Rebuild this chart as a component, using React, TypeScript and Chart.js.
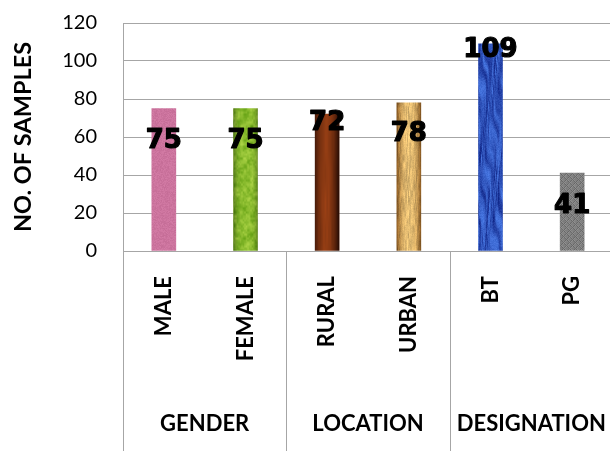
import React, { useEffect, useRef } from "react";
import { Chart, registerables } from "chart.js";

Chart.register(...registerables);

// ---- data ----
const groups = ["GENDER", "LOCATION", "DESIGNATION"];
const groupSizes = [2, 2, 2];
const categories = ["MALE", "FEMALE", "RURAL", "URBAN", "BT", "PG"];
const samples = [75, 75, 72, 78, 109, 41];
const yTicks = [0, 20, 40, 60, 80, 100, 120];

// ---- styling ----
const GRID = "#a6a6a6";
const CLEAR = "rgba(0,0,0,0)";
const BAR_W = 24;
const FALLBACK = ["#cb76a0", "#84bb22", "#7a2c0c", "#d9a35a", "#2d5ad2", "#808080"];
// value labels sit this many px below the top of each bar
const LABEL_DROP = [33, 33, 9, 31, 6, 33];

type RGB = [number, number, number];
const mix = (a: RGB, b: RGB, t: number): RGB => [
  a[0] + (b[0] - a[0]) * t,
  a[1] + (b[1] - a[1]) * t,
  a[2] + (b[2] - a[2]) * t,
];

function hash2(x: number, y: number, seed: number): number {
  let n = (Math.imul(x | 0, 374761393) + Math.imul(y | 0, 668265263) + Math.imul(seed, 1442695041)) | 0;
  n = Math.imul(n ^ (n >>> 13), 1274126177);
  n = n ^ (n >>> 16);
  return (n >>> 0) / 4294967296;
}

function smoothNoise(x: number, y: number, seed: number): number {
  const ix = Math.floor(x), iy = Math.floor(y);
  const fx = x - ix, fy = y - iy;
  const sx = fx * fx * (3 - 2 * fx), sy = fy * fy * (3 - 2 * fy);
  const a = hash2(ix, iy, seed), b = hash2(ix + 1, iy, seed);
  const c = hash2(ix, iy + 1, seed), d = hash2(ix + 1, iy + 1, seed);
  const top = a + (b - a) * sx;
  const bot = c + (d - c) * sx;
  return top + (bot - top) * sy;
}

// per-bar fill textures: (x, y, u = 0..1 across the bar) -> colour
const painters: ((x: number, y: number, u: number) => RGB)[] = [
  // MALE: flat pink with a faint grain
  (x, y) => {
    const n = (hash2(x, y, 11) - 0.5) * 14;
    return [204 + n, 116 + n, 158 + n];
  },
  // FEMALE: mottled green
  (x, y, u) => {
    const m = smoothNoise(x / 3.5, y / 4.5, 21) * 0.65 + smoothNoise(x / 1.5, y / 2, 22) * 0.35;
    const c = mix([92, 155, 14], [178, 216, 74], m);
    const e = 1 - 0.3 * Math.pow(Math.abs(2 * u - 1), 4);
    return [c[0] * e, c[1] * e, c[2] * e];
  },
  // RURAL: dark reddish wood
  (x, y, u) => {
    const d = Math.min(1, Math.abs(u - 0.45) / 0.55);
    const c = mix([150, 62, 20], [40, 12, 4], Math.pow(d, 1.8));
    const s = 0.9 + 0.14 * smoothNoise(x * 0.6, y / 30, 31);
    return [c[0] * s, c[1] * s, c[2] * s];
  },
  // URBAN: light straw wood
  (x, y, u) => {
    const d = Math.abs(u - 0.5) / 0.5;
    const c = mix([240, 198, 120], [135, 86, 30], Math.pow(d, 2.5));
    const s = 0.82 + 0.28 * smoothNoise(x * 1.1, y / 7, 41) + (hash2(x, y, 42) - 0.5) * 0.08;
    return [c[0] * s, c[1] * s, c[2] * s];
  },
  // BT: streaky royal blue
  (x, y) => {
    const s = smoothNoise(x * 0.8 + 2 * Math.sin(y / 18 + x * 0.3), y / 22, 51);
    const c = mix([20, 42, 140], [70, 118, 225], s);
    const n = (hash2(x, y, 52) - 0.5) * 18;
    return [c[0] + n, c[1] + n, c[2] + n];
  },
  // PG: grey mesh
  (x, y) => {
    const a = (((x + y) % 6) + 6) % 6;
    const b = (((x - y) % 6) + 6) % 6;
    let g = 128;
    if (a === 0 || b === 0) g = 106;
    else if (a === 1 || b === 1) g = 142;
    g += (hash2(x, y, 61) - 0.5) * 10;
    return [g, g, g];
  },
];

const textureCache = new Map<string, HTMLCanvasElement>();
function texture(i: number, w: number, h: number): HTMLCanvasElement {
  const key = `${i}:${w}:${h}`;
  const hit = textureCache.get(key);
  if (hit) return hit;
  const cv = document.createElement("canvas");
  cv.width = w;
  cv.height = Math.max(1, h);
  const c2 = cv.getContext("2d")!;
  const img = c2.createImageData(w, cv.height);
  const paint = painters[i];
  for (let y = 0; y < cv.height; y++) {
    for (let x = 0; x < w; x++) {
      const [r, g, b] = paint(x, y, (x + 0.5) / w);
      const k = (y * w + x) * 4;
      img.data[k] = r;
      img.data[k + 1] = g;
      img.data[k + 2] = b;
      img.data[k + 3] = 255;
    }
  }
  c2.putImageData(img, 0, 0);
  textureCache.set(key, cv);
  return cv;
}

const barFill = (ctx: any) => {
  const i = ctx.dataIndex;
  const chart = ctx.chart;
  if (i === undefined || !chart.chartArea || !chart.scales.x || !chart.scales.y) return FALLBACK[i ?? 0];
  const xs = chart.scales.x, ys = chart.scales.y;
  const cx = xs.getPixelForValue(i);
  const top = Math.floor(ys.getPixelForValue(samples[i]));
  const bottom = Math.ceil(ys.getPixelForValue(0));
  const left = Math.round(cx - BAR_W / 2);
  const pat = chart.ctx.createPattern(texture(i, BAR_W, bottom - top), "repeat");
  if (!pat) return FALLBACK[i];
  pat.setTransform(new DOMMatrix([1, 0, 0, 1, left, top]));
  return pat;
};

// group separators and group names under the category labels
const groupAxisPlugin = {
  id: "groupAxis",
  afterDraw(chart: any) {
    const ctx = chart.ctx;
    const xs = chart.scales.x;
    const bottom = chart.chartArea.bottom;
    const step = xs.width / categories.length;
    ctx.save();
    ctx.strokeStyle = GRID;
    ctx.lineWidth = 1;
    let start = 0;
    const edges = [0];
    groupSizes.forEach((n) => {
      start += n;
      edges.push(start);
    });
    // left edge and the boundaries between groups
    edges.slice(0, -1).forEach((k) => {
      const x = Math.round(xs.left + k * step) + 0.5;
      ctx.beginPath();
      ctx.moveTo(x, bottom);
      ctx.lineTo(x, chart.height);
      ctx.stroke();
    });
    ctx.fillStyle = "#000";
    ctx.font = "bold 22px Lato, sans-serif";
    ctx.textAlign = "center";
    ctx.textBaseline = "middle";
    groups.forEach((g, gi) => {
      const mid = xs.left + ((edges[gi] + edges[gi + 1]) / 2) * step;
      ctx.fillText(g, mid, chart.height - 27);
    });
    ctx.restore();
  },
};

// value labels on the bars
const valueLabelPlugin = {
  id: "valueLabels",
  afterDatasetsDraw(chart: any) {
    const ctx = chart.ctx;
    const meta = chart.getDatasetMeta(0);
    ctx.save();
    ctx.fillStyle = "#000";
    ctx.strokeStyle = "#000";
    ctx.lineWidth = 1.2;
    ctx.lineJoin = "round";
    ctx.font = "bold 26px 'DejaVu Sans', sans-serif";
    ctx.textAlign = "center";
    ctx.textBaseline = "middle";
    meta.data.forEach((el: any, i: number) => {
      const t = String(samples[i]);
      ctx.fillText(t, el.x, el.y + LABEL_DROP[i]);
      ctx.strokeText(t, el.x, el.y + LABEL_DROP[i]);
    });
    ctx.restore();
  },
};

export default function App() {
  const ref = useRef<HTMLCanvasElement | null>(null);

  useEffect(() => {
    if (!ref.current) return;
    const chart = new Chart(ref.current, {
      type: "bar",
      data: {
        labels: categories,
        datasets: [
          {
            data: samples,
            backgroundColor: barFill as any,
            borderWidth: 0,
            barThickness: BAR_W,
          },
        ],
      },
      options: {
        animation: false,
        responsive: false,
        maintainAspectRatio: false,
        events: [],
        layout: { padding: { top: 23, right: 7, left: 0, bottom: 0 } },
        plugins: { legend: { display: false }, tooltip: { enabled: false } },
        scales: {
          x: {
            // invisible tick marks push the rotated labels down
            grid: { display: true, color: CLEAR, drawTicks: true, tickLength: 23, tickColor: CLEAR },
            border: { color: GRID, width: 1 },
            ticks: {
              minRotation: 90,
              maxRotation: 90,
              padding: 2,
              color: "#000",
              font: { family: "Lato, sans-serif", size: 22, weight: "bold" },
            },
            afterFit: (s: any) => {
              s.height = 200;
              s.paddingLeft = 0;
              s.paddingRight = 0;
            },
          },
          y: {
            min: 0,
            max: 120,
            afterBuildTicks: (s: any) => {
              s.ticks = yTicks.map((v) => ({ value: v }));
            },
            ticks: {
              padding: 2,
              color: "#000",
              font: { family: "Lato, sans-serif", size: 20 },
            },
            grid: { color: GRID, lineWidth: 1, drawTicks: true, tickLength: 24, tickColor: CLEAR },
            border: { color: GRID, width: 1 },
            title: {
              display: true,
              text: "NO. OF SAMPLES",
              color: "#000",
              font: { family: "Lato, sans-serif", size: 23.5, weight: "bold" },
              padding: { top: 9, bottom: 0 },
            },
            afterFit: (s: any) => {
              s.width = 123;
            },
          },
        },
      },
      plugins: [groupAxisPlugin, valueLabelPlugin],
    });
    return () => chart.destroy();
  }, []);

  return (
    <div style={{ position: "fixed", left: 0, top: 0, width: 610, height: 451, overflow: "hidden", background: "#fff" }}>
      <canvas ref={ref} width={620} height={451} style={{ width: 620, height: 451, display: "block" }} />
    </div>
  );
}
